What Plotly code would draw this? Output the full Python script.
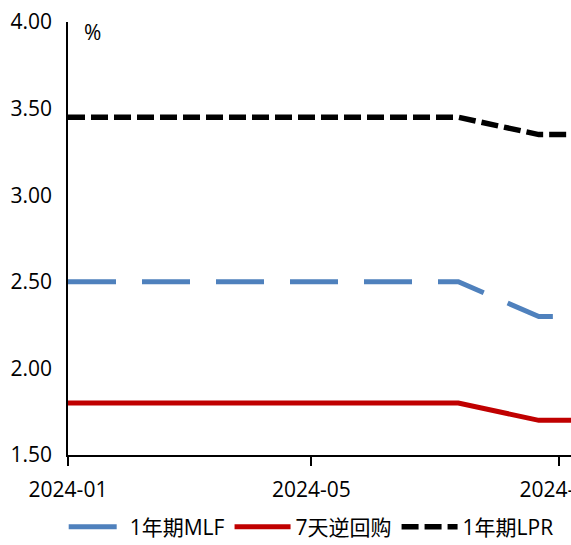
import plotly.graph_objects as go

# Data
dates = ["2024-01-01", "2024-02-01", "2024-03-01", "2024-04-01", "2024-05-01",
         "2024-06-01", "2024-07-01", "2024-07-13", "2024-08-22", "2024-09-01", "2024-09-20"]
mlf = [2.50, 2.50, 2.50, 2.50, 2.50, 2.50, 2.50, 2.50, 2.30, 2.30, 2.30]
repo7d = [1.80, 1.80, 1.80, 1.80, 1.80, 1.80, 1.80, 1.80, 1.70, 1.70, 1.70]
lpr1y = [3.45, 3.45, 3.45, 3.45, 3.45, 3.45, 3.45, 3.45, 3.35, 3.35, 3.35]

names = ["1年期MLF", "7天逆回购", "1年期LPR"]
ytick_vals = [1.5, 2.0, 2.5, 3.0, 3.5, 4.0]
ytick_text = ["1.50", "2.00", "2.50", "3.00", "3.50", "4.00"]
xtick_vals = ["2024-01-01", "2024-05-01", "2024-09-01"]
xtick_text = ["2024-01", "2024-05", "2024-09"]

FONT = "Open Sans, Noto Sans CJK SC, sans-serif"

fig = go.Figure()
fig.add_trace(go.Scatter(x=dates, y=mlf, mode="lines", name=names[0],
                         line=dict(color="#4F81BD", width=5, dash="48px,26px")))
fig.add_trace(go.Scatter(x=dates, y=repo7d, mode="lines", name=names[1],
                         line=dict(color="#C00000", width=5)))
fig.add_trace(go.Scatter(x=dates, y=lpr1y, mode="lines", name=names[2],
                         line=dict(color="#000000", width=5.5, dash="17px,6px")))

fig.update_layout(
    width=571, height=545,
    margin=dict(l=68, r=0, t=22, b=90),
    paper_bgcolor="white", plot_bgcolor="white",
    font=dict(family=FONT, size=21, color="#000000"),
    showlegend=True,
    legend=dict(orientation="h", xref="container", yref="container",
                x=0.545, xanchor="center", y=0.033, yanchor="middle",
                font=dict(size=21), itemwidth=56, bgcolor="rgba(0,0,0,0)"),
    annotations=[dict(text="%", xref="paper", yref="paper", x=0.048, y=0.977,
                      xanchor="center", yanchor="middle", showarrow=False,
                      font=dict(size=21))],
)
fig.update_xaxes(type="date", range=["2024-01-01", "2024-09-07"],
                 tickvals=xtick_vals, ticktext=xtick_text,
                 showgrid=False, zeroline=False, showline=True,
                 linecolor="black", linewidth=1.5,
                 ticks="outside", ticklen=9, tickcolor="black", tickwidth=1.5,
                 ticklabelstandoff=6, ticklabeloverflow="allow",
                 automargin=False)
fig.update_yaxes(range=[1.5, 4.0], tickvals=ytick_vals, ticktext=ytick_text,
                 showgrid=False, zeroline=False, showline=True,
                 linecolor="black", linewidth=1.5, ticks="",
                 ticklabelstandoff=10, automargin=False)

fig.write_html("out.html", config={"displayModeBar": False},
               post_script="document.body.style.margin='0';document.body.style.overflow='hidden';")
